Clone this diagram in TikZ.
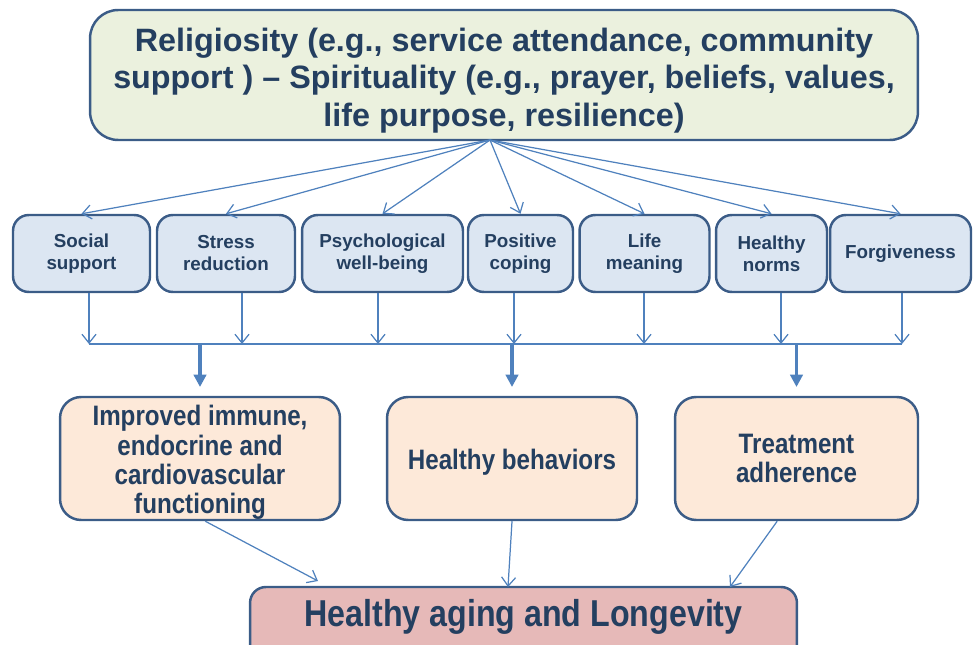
\documentclass[tikz,border=0pt]{standalone}
\usepackage{fontspec}
\setmainfont{Liberation Sans}
\newfontfamily\narrowsf[FakeStretch=0.86]{Liberation Sans}
\usepackage{tikz}
\usetikzlibrary{arrows.meta}
\definecolor{navy}{HTML}{243F60}
\definecolor{boxline}{HTML}{3B5C87}
\definecolor{arrowblue}{HTML}{4F81BD}
\definecolor{topfill}{HTML}{EBF1DE}
\definecolor{midfill}{HTML}{DCE6F2}
\definecolor{lowfill}{HTML}{FDE9D9}
\definecolor{endfill}{HTML}{E6B9B8}

\begin{document}
\begin{tikzpicture}[x=0.02cm,y=-0.02cm,
		box/.style={draw=boxline,line width=1.4pt,text=navy,align=center,inner sep=0pt},
		factor/.style={box,fill=midfill,rounded corners=9pt,minimum height=1.54cm,font=\fontsize{10.7}{12.5}\selectfont\bfseries},
		outcome/.style={box,fill=lowfill,rounded corners=12pt,minimum height=2.46cm,font=\narrowsf\fontsize{16}{16.7}\selectfont\bfseries},
		link/.style={draw=arrowblue,line width=0.7pt,-{Straight Barb[length=5pt,width=8pt]}},
		feed/.style={draw=arrowblue,line width=1.8pt,-{Triangle[length=7pt,width=7pt]}}]
			\useasboundingbox (0,0) rectangle (973,645);
			\node[box,fill=topfill,rounded corners=16pt,minimum width=16.56cm,minimum height=2.6cm,font=\fontsize{18.4}{21.3}\selectfont\bfseries] (rel) at (504,75) {\rule{0pt}{19.5pt}Religiosity (e.g., service attendance, community\\support ) – Spirituality (e.g., prayer, beliefs, values,\\life purpose, resilience)};
			\node[factor,minimum width=2.74cm] (soc) at (81.5,253.5) {Social\\support};
			\node[factor,minimum width=2.76cm] (stress) at (226,253.5) {Stress\\reduction};
			\node[factor,minimum width=3.22cm] (psych) at (382.5,253.5) {Psychological\\well-being};
			\node[factor,minimum width=2.1cm] (coping) at (520.5,253.5) {Positive\\coping};
			\node[factor,minimum width=2.6cm] (meaning) at (644.5,253.5) {Life\\meaning};
			\node[factor,minimum width=2.22cm] (norms) at (771.5,253.5) {Healthy\\norms};
			\node[factor,minimum width=2.82cm] (forgive) at (900.5,253.5) {Forgiveness};
			\node[outcome,minimum width=5.6cm] (immune) at (200,458.5) {\rule{0pt}{16.3pt}Improved immune,\\endocrine and\\cardiovascular\\functioning};
			\node[outcome,minimum width=5cm] (behav) at (512,458.5) {\rule{0pt}{16.3pt}Healthy behaviors};
			\node[outcome,minimum width=4.86cm] (adhere) at (796.5,458.5) {Treatment\\adherence};
			% runs off the lower edge of the page
			\node[box,fill=endfill,rounded corners=9pt,minimum width=10.94cm,minimum height=1.56cm,text depth=14.5pt,font=\narrowsf\fontsize{21.3}{24}\selectfont\bfseries] (age) at (523.5,626) {Healthy aging and Longevity};
			\coordinate (hub) at (490,140);
			\foreach \n in {soc,stress,psych,coping,meaning,norms,forgive}
				\draw[link] (hub) -- (\n.north);
			\foreach \n/\x in {soc/89,stress/242,psych/378,coping/514,meaning/644,norms/781,forgive/902}
				\coordinate (b\n) at (\x,344);
			\foreach \n in {soc,stress,psych,coping,meaning,norms,forgive}
				\draw[link] (\n.south -| b\n) -- (b\n);
			\draw[arrowblue,line width=0.7pt] (bsoc) -- (bforgive);
			\foreach \n in {immune,behav,adhere}
				\draw[feed] (\n.north |- bsoc) -- ([yshift=5pt]\n.north);
			\coordinate (e1) at (318,581);
			\coordinate (e2) at (508,587);
			\coordinate (e3) at (730,587);
			\draw[link] ([xshift=3pt]immune.south) -- (e1);
			\draw[link] (behav.south) -- (e2);
			\draw[link] ([xshift=-11pt]adhere.south) -- (e3);
		\end{tikzpicture}
\end{document}
